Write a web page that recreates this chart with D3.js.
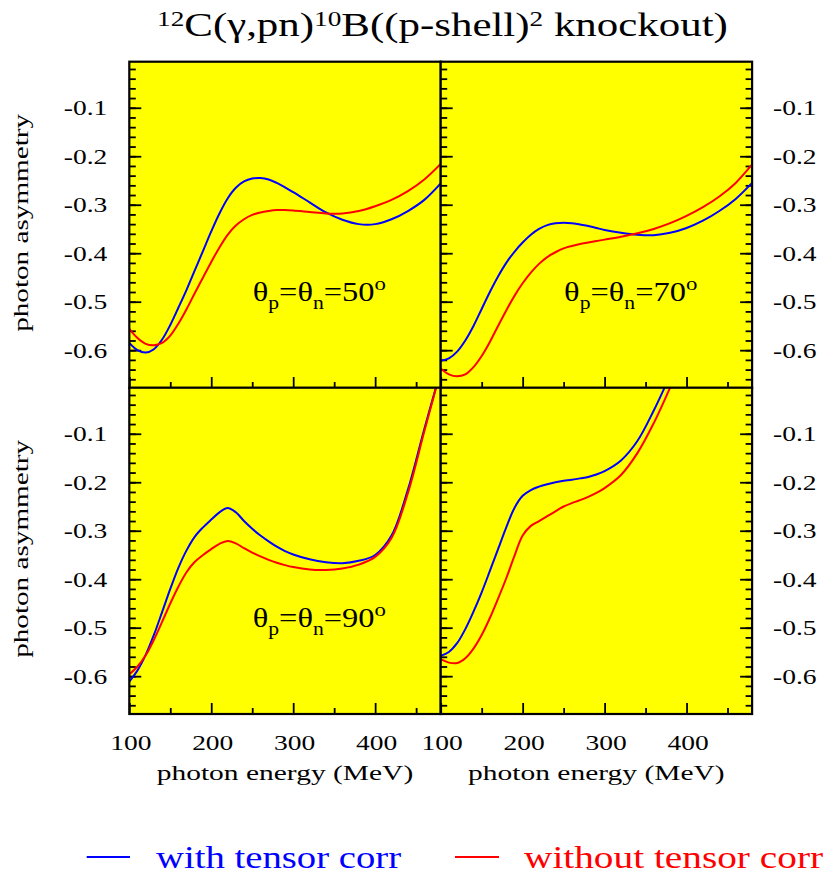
<!DOCTYPE html>
<html>
<head>
<meta charset="utf-8">
<script src="https://cdn.jsdelivr.net/npm/d3@7"></script>
<style>
    body { margin: 0; background: white; }
</style>
</head>
<body>
<div id="chartContainer"></div>
<script>
// photon energy grid (MeV)
var energy = [100, 110, 120, 130, 140, 150, 160, 170, 180, 190, 200, 210, 220, 230, 240, 250,
    260, 270, 280, 290, 300, 320, 340, 360, 380, 400, 420, 440, 460, 480];

// theta = 50
var with50 = [-0.585, -0.600, -0.605, -0.598, -0.578, -0.548, -0.512, -0.475, -0.435, -0.395, -0.355, -0.318, -0.287, -0.265, -0.252, -0.246,
    -0.245, -0.248, -0.255, -0.264, -0.274, -0.295, -0.316, -0.331, -0.340, -0.340, -0.330, -0.313, -0.290, -0.256];
var without50 = [-0.556, -0.575, -0.587, -0.590, -0.585, -0.570, -0.545, -0.515, -0.482, -0.450, -0.418, -0.388, -0.362, -0.343, -0.330, -0.321,
    -0.316, -0.313, -0.311, -0.311, -0.312, -0.315, -0.318, -0.318, -0.313, -0.303, -0.290, -0.272, -0.248, -0.216];

// theta = 70
var with70 = [-0.622, -0.617, -0.603, -0.580, -0.550, -0.515, -0.480, -0.448, -0.420, -0.397, -0.378, -0.362, -0.350, -0.342, -0.338, -0.337,
    -0.338, -0.341, -0.344, -0.348, -0.352, -0.358, -0.362, -0.363, -0.358, -0.348, -0.333, -0.313, -0.288, -0.255];
var without70 = [-0.638, -0.650, -0.654, -0.650, -0.635, -0.612, -0.583, -0.550, -0.518, -0.488, -0.462, -0.440, -0.422, -0.408, -0.398, -0.390,
    -0.385, -0.381, -0.378, -0.375, -0.372, -0.366, -0.359, -0.350, -0.338, -0.323, -0.305, -0.283, -0.255, -0.217];

// theta = 90
var with90 = [-0.611, -0.588, -0.556, -0.515, -0.468, -0.420, -0.376, -0.340, -0.312, -0.293, -0.277, -0.262, -0.253, -0.262, -0.280, -0.296,
    -0.310, -0.322, -0.333, -0.342, -0.349, -0.359, -0.365, -0.367, -0.362, -0.350, -0.310, -0.215, -0.090, 0.030];
var without90 = [-0.596, -0.580, -0.557, -0.525, -0.488, -0.450, -0.415, -0.385, -0.364, -0.350, -0.338, -0.327, -0.321, -0.326, -0.336, -0.345,
    -0.353, -0.360, -0.366, -0.371, -0.375, -0.380, -0.381, -0.378, -0.370, -0.354, -0.315, -0.222, -0.095, 0.030];

// 4th panel (no label)
var energyB = [100, 110, 120, 130, 140, 150, 160, 170, 180, 190, 200, 210, 220, 230, 240, 250,
    260, 270, 280, 290, 300, 320, 340, 360, 380, 400];
var withB = [-0.558, -0.550, -0.532, -0.503, -0.467, -0.427, -0.383, -0.338, -0.293, -0.253, -0.228, -0.216, -0.209, -0.204, -0.200, -0.197,
    -0.195, -0.192, -0.189, -0.184, -0.177, -0.155, -0.115, -0.052, 0.020, 0.090];
var withoutB = [-0.565, -0.572, -0.573, -0.563, -0.543, -0.515, -0.480, -0.440, -0.398, -0.352, -0.310, -0.290, -0.280, -0.270, -0.260, -0.250,
    -0.243, -0.237, -0.230, -0.222, -0.212, -0.185, -0.140, -0.078, -0.005, 0.070];

var yTickValues = [-0.6, -0.5, -0.4, -0.3, -0.2, -0.1];
var yTickLabels = ["-0.6", "-0.5", "-0.4", "-0.3", "-0.2", "-0.1"];
var xTickValues = [100, 200, 300, 400];
var xTickLabels = ["100", "200", "300", "400"];
var panelLabels = ["50", "70", "90", ""];
var seriesNames = ["with tensor corr", "without tensor corr"];
var seriesColors = ["#0000ff", "#ff0000"];

var W = 827, H = 876;
var colX = [129.3, 440.7], panelW = 311.4;
var rowY = [61.7, 387.7], panelH = 326.3;
var textStretch = 1.25;
var serif = "'Liberation Serif', Tinos, 'Times New Roman', Times, serif";

const svg = d3.select("#chartContainer")
    .append("svg")
    .attr("width", W)
    .attr("height", H)
    .attr("font-family", serif);

// squeeze/stretch a text horizontally so it spans x0..x1
function fitText(t, x0, x1) {
    var b = t.node().getBBox();
    var s = (x1 - x0) / b.width;
    t.attr("transform", "translate(" + x0 + ",0) scale(" + s + ",1) translate(" + (-b.x) + ",0)");
}

function stretchedLabel(x, y, str, anchor) {
    svg.append("text")
        .attr("transform", "translate(" + x + "," + y + ") scale(" + textStretch + ",1)")
        .attr("text-anchor", anchor)
        .attr("font-size", 22)
        .text(str);
}

var panels = [
    { col: 0, row: 0, e: energy, a: with50, b: without50, label: panelLabels[0] },
    { col: 1, row: 0, e: energy, a: with70, b: without70, label: panelLabels[1] },
    { col: 0, row: 1, e: energy, a: with90, b: without90, label: panelLabels[2] },
    { col: 1, row: 1, e: energyB, a: withB, b: withoutB, label: panelLabels[3] }
];

panels.forEach(function (p, i) {
    var x0 = colX[p.col], y0 = rowY[p.row];
    const x = d3.scaleLinear().domain([100, 480]).range([x0, x0 + panelW]);
    const y = d3.scaleLinear().domain([-0.678, -0.005]).range([y0 + panelH, y0]);

    svg.append("rect")
        .attr("x", x0).attr("y", y0)
        .attr("width", panelW).attr("height", panelH)
        .attr("fill", "#ffff00");

    svg.append("clipPath").attr("id", "clip" + i)
        .append("rect")
        .attr("x", x0).attr("y", y0)
        .attr("width", panelW).attr("height", panelH);

    var minorY = d3.range(-0.66, -0.001, 0.02).map(function (v) { return +v.toFixed(2); });
    var minorX = [150, 250, 350, 450];

    function axisG(axis, tx, ty) {
        var g = svg.append("g")
            .attr("transform", "translate(" + tx + "," + ty + ")")
            .call(axis);
        g.select(".domain").remove();
        g.selectAll("line").attr("stroke", "black").attr("stroke-width", 1.8);
    }

    // y ticks on the left edge of every panel, pointing in
    axisG(d3.axisLeft(y).tickValues(minorY).tickSize(-6.5).tickFormat(""), x0, 0);
    axisG(d3.axisLeft(y).tickValues(yTickValues).tickSize(-12).tickFormat(""), x0, 0);
    if (p.col == 1) {
        axisG(d3.axisRight(y).tickValues(minorY).tickSize(-6.5).tickFormat(""), x0 + panelW, 0);
        axisG(d3.axisRight(y).tickValues(yTickValues).tickSize(-12).tickFormat(""), x0 + panelW, 0);
    }
    // x ticks on bottom edge, pointing up
    axisG(d3.axisBottom(x).tickValues(minorX).tickSize(-6).tickFormat(""), 0, y0 + panelH);
    axisG(d3.axisBottom(x).tickValues(xTickValues).tickSize(-11).tickFormat(""), 0, y0 + panelH);

    var line = d3.line()
        .x(function (d, k) { return x(p.e[k]) })
        .y(function (d) { return y(d) })
        .curve(d3.curveCatmullRom);

    [p.a, p.b].forEach(function (vals, k) {
        svg.append("path")
            .datum(vals)
            .attr("clip-path", "url(#clip" + i + ")")
            .attr("fill", "none")
            .attr("stroke", seriesColors[k])
            .attr("stroke-width", 2)
            .attr("d", line);
    });

    svg.append("rect")
        .attr("x", x0).attr("y", y0)
        .attr("width", panelW).attr("height", panelH)
        .attr("fill", "none")
        .attr("stroke", "black")
        .attr("stroke-width", 2.2);

    // y tick labels
    yTickValues.forEach(function (v, k) {
        if (p.col == 0) stretchedLabel(x0 - 22, y(v) + 7.5, yTickLabels[k], "end");
        else stretchedLabel(x0 + panelW + 21, y(v) + 7.5, yTickLabels[k], "start");
    });

    // x tick labels + title
    if (p.row == 1) {
        xTickValues.forEach(function (v, k) {
            stretchedLabel(x(v) + 1.5, 750, xTickLabels[k], "middle");
        });
        var xt = svg.append("text")
            .attr("y", 780)
            .attr("font-size", 20)
            .text("photon energy (MeV)");
        fitText(xt, x0 + 27.4, x0 + 284);
    }

    // angle label
    if (p.label != "") {
        var lt = svg.append("text")
            .attr("y", y0 + 239)
            .attr("font-size", 27);
        lt.append("tspan").text("\u03b8");
        lt.append("tspan").attr("font-size", 18).attr("dy", 8).text("p");
        lt.append("tspan").attr("dy", -8).text("=\u03b8");
        lt.append("tspan").attr("font-size", 18).attr("dy", 8).text("n");
        lt.append("tspan").attr("dy", -8).text("=" + p.label);
        lt.append("tspan").attr("font-size", 19).attr("dy", -11).text("o");
        fitText(lt, x0 + 123.4, x0 + 256.7);
    }
});

// y axis titles
rowY.forEach(function (r) {
    svg.append("text")
        .attr("transform", "translate(28," + (r + panelH / 2 - 2) + ") rotate(-90)")
        .attr("text-anchor", "middle")
        .attr("font-size", 21)
        .attr("textLength", 218)
        .attr("lengthAdjust", "spacingAndGlyphs")
        .text("photon asymmetry");
});

// title
var title = svg.append("text")
    .attr("y", 36)
    .attr("font-size", 33);
title.append("tspan").attr("font-size", 21).attr("dy", -10).text("12");
title.append("tspan").attr("dy", 10).text("C(\u03b3,pn)");
title.append("tspan").attr("font-size", 21).attr("dy", -10).text("10");
title.append("tspan").attr("dy", 10).text("B((p-shell)");
title.append("tspan").attr("font-size", 21).attr("dy", -10).text("2");
title.append("tspan").attr("dy", 10).text(" knockout)");
fitText(title, 157, 728);

// legend
var legX = [[86.7, 130, 156, 402], [455, 499, 524, 824]];
seriesNames.forEach(function (name, k) {
    svg.append("line")
        .attr("x1", legX[k][0]).attr("x2", legX[k][1])
        .attr("y1", 857).attr("y2", 857)
        .attr("stroke", seriesColors[k])
        .attr("stroke-width", 2);
    var t = svg.append("text")
        .attr("y", 868)
        .attr("font-size", 31)
        .attr("fill", seriesColors[k])
        .text(name);
    fitText(t, legX[k][2], legX[k][3]);
});
</script>
</body>
</html>
